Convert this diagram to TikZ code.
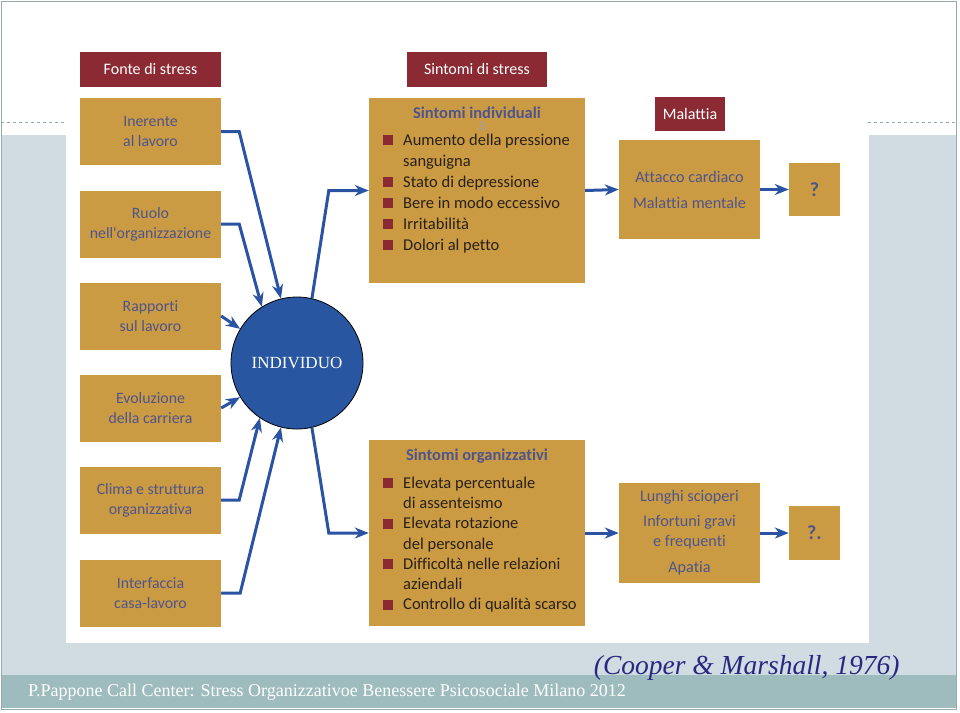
\documentclass[tikz,border=0pt]{standalone}
\usepackage{fontspec}
\setmainfont{Liberation Serif}
\newfontfamily\boxfont[Ligatures=NoCommon]{Carlito}
\usetikzlibrary{arrows.meta,calc}
\definecolor{gold}{RGB}{203,155,67}
\definecolor{darkred}{RGB}{140,42,52}
\definecolor{slate}{RGB}{78,84,140}
\definecolor{listtext}{RGB}{40,32,24}
\definecolor{arrowblue}{RGB}{42,84,163}
\definecolor{indblue}{RGB}{40,86,160}
\definecolor{slidebg}{RGB}{208,219,226}
\definecolor{band}{RGB}{158,188,190}
\definecolor{refblue}{RGB}{40,40,130}
\definecolor{framegray}{RGB}{150,170,175}
\definecolor{numblue}{RGB}{140,160,200}
\newcommand{\sqb}{\makebox[20pt][l]{\textcolor{darkred}{\rule{10pt}{10pt}}}}
\newcommand{\contl}{\hspace*{20pt}}
\tikzset{
  hdr/.style={fill=darkred, text=white, inner sep=0pt,
    font=\boxfont\fontsize{16}{18}\selectfont},
  srcbox/.style={fill=gold, text=slate, inner sep=0pt, align=center,
    minimum width=141pt, minimum height=67pt,
    font=\boxfont\fontsize{15.8}{20}\selectfont},
  goldbox/.style={fill=gold, inner sep=0pt},
  boxtitle/.style={text=slate, inner sep=0pt,
    font=\boxfont\bfseries\fontsize{16.5}{18}\selectfont},
  boxlist/.style={text=listtext, inner sep=0pt, align=left, anchor=north west,
    font=\boxfont\fontsize{16.5}{21}\selectfont},
  effect/.style={goldbox, text=slate, align=center,
    minimum width=141pt, minimum height=99pt},
  qbox/.style={goldbox, text=slate, minimum width=51pt, minimum height=53pt,
    font=\boxfont\bfseries\fontsize{20}{22}\selectfont},
  arr/.style={draw=arrowblue, line width=3pt,
    -{Stealth[length=14pt,width=11pt,inset=4.5pt]}}
}
\begin{document}
\begin{tikzpicture}[x=1pt,y=-1pt]
\useasboundingbox (0,0) rectangle (960,712);
% slide background
\fill[white] (0,0) rectangle (960,712);
\fill[slidebg] (1,135) rectangle (956,675);
\fill[white] (66,1) rectangle (869,643);
\draw[framegray, dashed, thin] (1,122) -- (66,122);
\draw[framegray, dashed, thin] (868,122) -- (956,122);
\fill[band] (1,675) rectangle (956,708);
\draw[framegray, line width=1pt] (1,1) rectangle (956,709);
%
\node (hsrc) [hdr, minimum width=141pt, minimum height=35pt] at (150.5,69.5) {Fonte di stress};
\node (hsym) [hdr, minimum width=140pt, minimum height=35pt] at (477,69.5) {Sintomi di stress};
\node (hmal) [hdr, minimum width=70pt, minimum height=34pt] at (690,114) {Malattia};
%
\node (b1) [srcbox] at (150.5,131.5) {Inerente\\al lavoro};
\node (b2) [srcbox] at (150.5,224) {Ruolo\\nell'organizzazione};
\node (b3) [srcbox] at (150.5,316) {Rapporti\\sul lavoro};
\node (b4) [srcbox] at (150.5,408) {Evoluzione\\della carriera};
\node (b5) [srcbox] at (150.5,500) {Clima e struttura\\organizzativa};
\node (b6) [srcbox] at (150.5,593) {Interfaccia\\casa-lavoro};
%
\node (si) [goldbox, minimum width=216pt, minimum height=185pt] at (477,190.5) {};
\node (num) [text=numblue, inner sep=0pt, font=\fontsize{13}{15}\selectfont] at (482,126) {3};
\node (sititle) [boxtitle] at (477,113) {Sintomi individuali};
\node (silist) [boxlist] at (383,133.5) {\sqb Aumento della pressione\\
  \contl sanguigna\\
  \sqb Stato di depressione\\
  \sqb Bere in modo eccessivo\\
  \sqb Irritabilità\\
  \sqb Dolori al petto};
%
\node (so) [goldbox, minimum width=216pt, minimum height=186pt] at (477,533) {};
\node (sotitle) [boxtitle] at (477,456) {Sintomi organizzativi};
\node (solist) [boxlist, font=\boxfont\fontsize{16.5}{20.3}\selectfont] at (383,476.5) {\sqb Elevata percentuale\\
  \contl di assenteismo\\
  \sqb Elevata rotazione\\
  \contl del personale\\
  \sqb Difficoltà nelle relazioni\\
  \contl aziendali\\
  \sqb Controllo di qualità scarso};
%
\node (mal) [effect, font=\boxfont\fontsize{16.2}{26}\selectfont] at (689.5,189.5) {Attacco cardiaco\\Malattia mentale};
\node (q1) [qbox] at (814.5,189.5) {?};
\node (ls) [effect, minimum height=100pt, font=\boxfont\fontsize{16.2}{20}\selectfont] at (689.5,533) {Lunghi scioperi\\[5pt]Infortuni gravi\\e frequenti\\[6pt]Apatia};
\node (q2) [qbox, minimum height=54pt] at (814.5,533) {?.};
%
\node (ind) [circle, fill=indblue, draw=black, line width=0.8pt, minimum size=132pt,
  inner sep=0pt, text=white, font=\fontsize{17}{20}\selectfont] at (297,363) {INDIVIDUO};
%
\draw[arr] (b1.east) -- ++(18,0) -- (ind.104);
\draw[arr] (b2.east) -- ++(18,0) -- (ind.122);
\draw[arr] (b3.east) -- (ind.149);
\draw[arr] (b4.east) -- (ind.211);
\draw[arr] (b5.east) -- ++(18,0) -- (ind.236);
\draw[arr] (b6.east) -- ++(19,0) -- (ind.256);
\draw[arr] (ind.77) -- ($(si.west)+(-40,0)$) -- (si.west);
\draw[arr] (ind.283) -- ($(so.west)+(-40,0)$) -- (so.west);
\draw[arr] (si.east) -- (mal.west);
\draw[arr] (mal.east) -- (q1.west);
\draw[arr] (so.east) -- (ls.west);
\draw[arr] (ls.east) -- (q2.west);
%
\node (cite) [anchor=east, text=refblue, font=\itshape\fontsize{27.5}{30}\selectfont] at (903,668) {(Cooper \& Marshall, 1976)};
\node (foot) [anchor=west, text=white, inner sep=0pt, font=\fontsize{18}{20}\selectfont] at (28,692) {P.Pappone Call Center: Stress Organizzativoe Benessere Psicosociale Milano 2012};
\end{tikzpicture}
\end{document}
